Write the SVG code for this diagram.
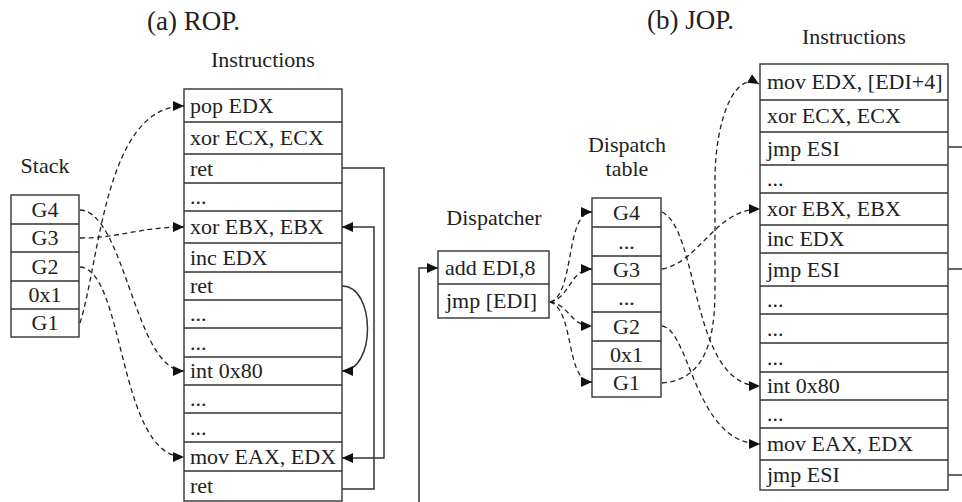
<svg xmlns="http://www.w3.org/2000/svg" width="962" height="502" viewBox="0 0 962 502">
<defs>
<marker id="ah" markerWidth="11" markerHeight="10" refX="11" refY="5" orient="auto" markerUnits="userSpaceOnUse"><path d="M0,0 L11,5 L0,10 z" fill="#111"/></marker>
<style>
text{font-family:"Liberation Serif","Times New Roman",serif;fill:#222}
.t{font-size:27px}
.l{font-size:22px}
.c{font-size:22px}
.m{text-anchor:middle}
.box{fill:#fff;stroke:#333;stroke-width:1.4}
.row{stroke:#333;stroke-width:1.4}
.d{fill:none;stroke:#222;stroke-width:1.3;stroke-dasharray:5,3.5}
.s{fill:none;stroke:#333;stroke-width:1.5}
</style>
</defs>
<rect width="962" height="502" fill="#fff"/>
<text class="t" x="147" y="30">(a) ROP.</text>
<text class="t" x="647" y="29">(b) JOP.</text>
<text class="l m" x="263" y="67">Instructions</text>
<text class="l m" x="854" y="44">Instructions</text>
<text class="l m" x="45" y="173">Stack</text>
<text class="l m" x="494" y="225">Dispatcher</text>
<text class="l m" x="627" y="152">Dispatch</text>
<text class="l m" x="627" y="176">table</text>

<g id="stack">
<rect class="box" x="11" y="195" width="68" height="142"/>
<path class="row" d="M11,224H79M11,252H79M11,281H79M11,309H79"/>
<text class="c m" x="45" y="216.5">G4</text>
<text class="c m" x="45" y="245">G3</text>
<text class="c m" x="45" y="273.5">G2</text>
<text class="c m" x="45" y="302">0x1</text>
<text class="c m" x="45" y="330">G1</text>
</g>

<g id="rop-instructions">
<rect class="box" x="184" y="89" width="158" height="412"/>
<path class="row" d="M184,122H342M184,154H342M184,183H342M184,211H342M184,243H342M184,272H342M184,300H342M184,328H342M184,357H342M184,385H342M184,413H342M184,442H342M184,471H342"/>
<text class="c" x="190" y="112.5">pop EDX</text>
<text class="c" x="190" y="145">xor ECX, ECX</text>
<text class="c" x="190" y="175.5">ret</text>
<text class="c" x="190" y="204">...</text>
<text class="c" x="190" y="234">xor EBX, EBX</text>
<text class="c" x="190" y="264.5">inc EDX</text>
<text class="c" x="190" y="293">ret</text>
<text class="c" x="190" y="321">...</text>
<text class="c" x="190" y="349.5">...</text>
<text class="c" x="190" y="378">int 0x80</text>
<text class="c" x="190" y="406">...</text>
<text class="c" x="190" y="434.5">...</text>
<text class="c" x="190" y="463.5">mov EAX, EDX</text>
<text class="c" x="190" y="493">ret</text>
</g>

<g id="dispatcher">
<rect class="box" x="438" y="251" width="111" height="67"/>
<path class="row" d="M438,284H549"/>
<text class="c" x="445" y="274.5">add EDI,8</text>
<text class="c" x="446" y="308">jmp [EDI]</text>
</g>

<g id="dispatch-table">
<rect class="box" x="592" y="198" width="69" height="199"/>
<path class="row" d="M592,227H661M592,256H661M592,284H661M592,312H661M592,341H661M592,369H661"/>
<text class="c m" x="626.5" y="219.5">G4</text>
<text class="c m" x="626.5" y="248.5">...</text>
<text class="c m" x="626.5" y="277">G3</text>
<text class="c m" x="626.5" y="305">...</text>
<text class="c m" x="626.5" y="333.5">G2</text>
<text class="c m" x="626.5" y="362">0x1</text>
<text class="c m" x="626.5" y="390">G1</text>
</g>

<g id="jop-instructions">
<rect class="box" x="760" y="64" width="188" height="426"/>
<path class="row" d="M760,100H948M760,132H948M760,165H948M760,193H948M760,225H948M760,253H948M760,286H948M760,314H948M760,343H948M760,372H948M760,400H948M760,428H948M760,460H948"/>
<text class="c" x="767" y="89">mov EDX, [EDI+4]</text>
<text class="c" x="767" y="123">xor ECX, ECX</text>
<text class="c" x="767" y="155.5">jmp ESI</text>
<text class="c" x="767" y="186">...</text>
<text class="c" x="767" y="216">xor EBX, EBX</text>
<text class="c" x="767" y="246">inc EDX</text>
<text class="c" x="767" y="276.5">jmp ESI</text>
<text class="c" x="767" y="307">...</text>
<text class="c" x="767" y="335.5">...</text>
<text class="c" x="767" y="364.5">...</text>
<text class="c" x="767" y="393">int 0x80</text>
<text class="c" x="767" y="421">...</text>
<text class="c" x="767" y="451">mov EAX, EDX</text>
<text class="c" x="767" y="482">jmp ESI</text>
</g>

<g id="connectors">
<path class="d" d="M80,323 C100,260 105,106 184,106" marker-end="url(#ah)"/>
<path class="d" d="M80,238 C120,238 140,227 184,227" marker-end="url(#ah)"/>
<path class="d" d="M80,210 C125,212 135,371 184,371" marker-end="url(#ah)"/>
<path class="d" d="M80,267 C125,270 118,457 184,457" marker-end="url(#ah)"/>
<path class="s" d="M342,168 H384 V458 H342" marker-end="url(#ah)"/>
<path class="s" d="M342,489 H374 V227 H342" marker-end="url(#ah)"/>
<path class="s" d="M342,286 C376,286 376,371 342,371" marker-end="url(#ah)"/>
<path class="s" d="M419,502 V268 H438" marker-end="url(#ah)"/>
<path class="d" d="M550,302 C575,295 565,212 592,212" marker-end="url(#ah)"/>
<path class="d" d="M550,302 C570,298 570,269 592,269" marker-end="url(#ah)"/>
<path class="d" d="M550,302 C570,305 570,326 592,326" marker-end="url(#ah)"/>
<path class="d" d="M550,302 C575,310 565,382 592,382" marker-end="url(#ah)"/>
<path class="d" d="M662,383 C705,380 715,340 715,290 L715,180 C715,120 735,70 759,84" marker-end="url(#ah)"/>
<path class="d" d="M662,269 C700,262 715,209 760,209" marker-end="url(#ah)"/>
<path class="d" d="M662,212 C700,230 690,386 760,386" marker-end="url(#ah)"/>
<path class="d" d="M662,326 C690,330 695,444 760,444" marker-end="url(#ah)"/>
<path class="s" d="M948,147H962M948,269H962M948,475H962"/>
</g>
</svg>
